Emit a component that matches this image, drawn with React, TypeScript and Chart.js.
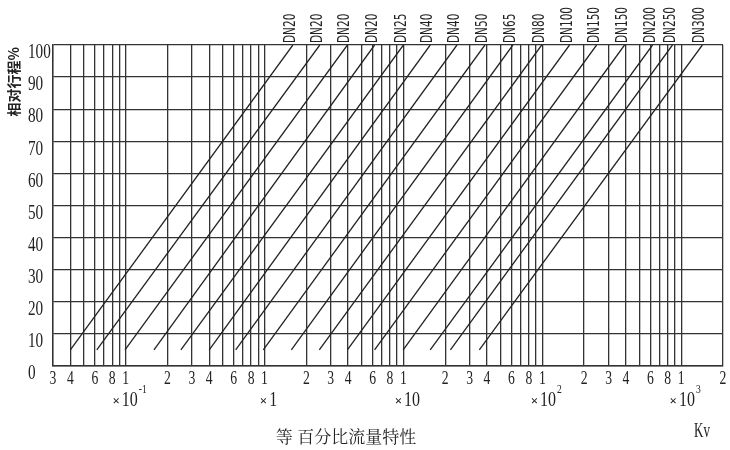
import React, { useEffect, useRef } from "react";
import { Chart, registerables } from "chart.js";

Chart.register(...registerables);

// Valve sizes, one per curve (labels along the top)
const dnLabels = [
  "DN20", "DN20", "DN20", "DN20", "DN25", "DN40", "DN40", "DN50",
  "DN65", "DN80", "DN100", "DN150", "DN150", "DN200", "DN250", "DN300",
];
// Kv at 5 % travel (start of each curve)
const kvStart = [
  0.04, 0.062, 0.099, 0.16, 0.25, 0.4, 0.62, 0.98,
  1.56, 2.48, 3.95, 6.2, 9.96, 15.6, 21.8, 35.2,
];
// Kv at 100 % travel (end of each curve)
const kvEnd = [
  1.6, 2.5, 3.95, 6.2, 10, 15.6, 24.3, 38.6,
  61.4, 99, 157, 246, 391, 622, 865, 1420,
];
const travelStart = 5;
const travelEnd = 100;

// x axis (logarithmic Kv) ticks and their labels
const xTickValues = [
  0.03, 0.04, 0.05, 0.06, 0.07, 0.08, 0.09,
  0.1, 0.2, 0.3, 0.4, 0.5, 0.6, 0.7, 0.8, 0.9,
  1, 2, 3, 4, 5, 6, 7, 8, 9,
  10, 20, 30, 40, 50, 60, 70, 80, 90,
  100, 200, 300, 400, 500, 600, 700, 800, 900,
  1000, 2000,
];
const xTickLabels = [
  "3", "4", "", "6", "", "8", "",
  "1", "2", "3", "4", "", "6", "", "8", "",
  "1", "2", "3", "4", "", "6", "", "8", "",
  "1", "2", "3", "4", "", "6", "", "8", "",
  "1", "2", "3", "4", "", "6", "", "8", "",
  "1", "2",
];
// decade multipliers under the x ticks
const multValues = [0.1, 1, 10, 100, 1000];
const multBases = ["10", "1", "10", "10", "10"];
const multExps = ["-1", "", "", "2", "3"];

// y axis (relative travel %)
const yMin = 0;
const yMax = 100;
const yStep = 10;

const yTitle = "相对行程%";
const xTitle = "等 百分比流量特性";
const xUnit = "Kv";

const INK = "#222222";
const GRID = "#333333";
const SERIF = '"Liberation Serif", "Times New Roman", serif';
const CONDENSE = 0.76;

export default function App() {
  const ref = useRef<HTMLCanvasElement>(null);

  useEffect(() => {
    const canvas = ref.current!;

    // narrow serif look for the axis tick labels drawn by the scales
    const condensedTicks = {
      id: "condensedTicks",
      beforeDraw(chart: any) {
        const ctx = chart.ctx;
        const orig = CanvasRenderingContext2D.prototype.fillText;
        ctx.fillText = function (t: string, x: number, y: number, mw?: number) {
          this.save();
          this.scale(CONDENSE, 1);
          if (mw !== undefined) orig.call(this, t, x / CONDENSE, y, mw / CONDENSE);
          else orig.call(this, t, x / CONDENSE, y);
          this.restore();
        };
      },
      beforeDatasetsDraw(chart: any) {
        delete chart.ctx.fillText;
      },
    };

    const txt = (ctx: any, s: string, x: number, y: number, sx: number, align: string) => {
      ctx.save();
      ctx.translate(x, y);
      ctx.scale(sx, 1);
      ctx.textAlign = align;
      ctx.fillText(s, 0, 0);
      ctx.restore();
    };

    const annotate = {
      id: "annotate",
      afterDraw(chart: any) {
        const { ctx, scales } = chart;
        const xs = scales.x;
        const ys = scales.y;
        delete ctx.fillText;
        ctx.save();
        ctx.fillStyle = INK;

        // DN labels at top of each curve, rotated
        ctx.font = '13px "DejaVu Sans Condensed", "DejaVu Sans", sans-serif';
        dnLabels.forEach((lab, i) => {
          const px = xs.getPixelForValue(kvEnd[i]) - 2;
          const py = ys.getPixelForValue(travelEnd) - 2;
          ctx.save();
          ctx.translate(px, py);
          ctx.rotate(-Math.PI / 2);
          ctx.scale(0.9, 1.22);
          ctx.textAlign = "left";
          ctx.textBaseline = "middle";
          ctx.fillText(lab, 0, 0);
          ctx.restore();
        });

        // y title, rotated, aligned with the top of the plot
        ctx.save();
        ctx.font = 'bold 14px "Noto Sans CJK SC", sans-serif';
        ctx.translate(14, ys.getPixelForValue(yMax) + 2);
        ctx.rotate(-Math.PI / 2);
        ctx.textAlign = "right";
        ctx.textBaseline = "middle";
        ctx.fillText(yTitle, 0, 0);
        ctx.restore();

        // decade multipliers: "× 10^n"
        const by = 401;
        ctx.textBaseline = "middle";
        multValues.forEach((v, i) => {
          ctx.font = `bold 13px ${SERIF}`;
          const wx = ctx.measureText("×").width;
          ctx.font = `20px ${SERIF}`;
          const wb = ctx.measureText(multBases[i]).width * 0.8;
          ctx.font = `12px ${SERIF}`;
          const we = multExps[i] ? ctx.measureText(multExps[i]).width * 0.8 + 1 : 0;
          const cx = xs.getPixelForValue(v) + 4;
          const x0 = cx - (wx + 2 + wb + we) / 2;
          ctx.font = `bold 13px ${SERIF}`;
          txt(ctx, "×", x0, by + 1, 1, "left");
          ctx.font = `20px ${SERIF}`;
          txt(ctx, multBases[i], x0 + wx + 2, by, 0.8, "left");
          if (multExps[i]) {
            ctx.font = `12px ${SERIF}`;
            txt(ctx, multExps[i], x0 + wx + 2 + wb + 1, by - 11, 0.8, "left");
          }
        });

        // bottom title and unit
        ctx.textBaseline = "middle";
        ctx.font = '17px "Noto Serif CJK SC", "Noto Sans CJK SC", serif';
        txt(ctx, xTitle, 346, 437, 1, "center");
        ctx.font = `20px ${SERIF}`;
        txt(ctx, xUnit, 702, 432, 0.65, "center");
        ctx.restore();
      },
    };

    const datasets = dnLabels.map((lab, i) => ({
      label: lab,
      data: [
        { x: kvStart[i], y: travelStart },
        { x: kvEnd[i], y: travelEnd },
      ],
      showLine: true,
      borderColor: INK,
      borderWidth: 1.3,
      pointRadius: 0,
      fill: false,
    }));

    const chart = new Chart(canvas, {
      type: "scatter",
      data: { datasets },
      options: {
        responsive: false,
        animation: false,
        devicePixelRatio: 1,
        layout: { padding: { left: 28, top: 45, right: 7, bottom: 0 } },
        plugins: { legend: { display: false }, tooltip: { enabled: false } },
        scales: {
          x: {
            type: "logarithmic",
            min: 0.03,
            max: 2000,
            afterBuildTicks: (s: any) => {
              s.ticks = xTickValues.map((v) => ({ value: v }));
            },
            afterFit: (s: any) => {
              s.height = 84;
            },
            ticks: {
              autoSkip: false,
              maxRotation: 0,
              minRotation: 0,
              padding: 2,
              color: INK,
              font: { family: SERIF, size: 18 },
              callback: (_v: any, idx: number) => xTickLabels[idx],
            },
            grid: { color: GRID, lineWidth: 1.3, drawTicks: false },
            border: { color: GRID, width: 1.4 },
          },
          y: {
            type: "linear",
            min: yMin,
            max: yMax,
            afterFit: (s: any) => {
              s.width = 25;
            },
            ticks: {
              stepSize: yStep,
              crossAlign: "far",
              labelOffset: 8,
              padding: 0,
              color: INK,
              font: { family: SERIF, size: 20 },
            },
            grid: { color: GRID, lineWidth: 1.3, drawTicks: false },
            border: { color: GRID, width: 1.4 },
          },
        },
      },
      plugins: [condensedTicks, annotate],
    } as any);

    return () => chart.destroy();
  }, []);

  return (
    <div style={{ position: "fixed", left: 0, top: 0, width: 730, height: 450, background: "#fff" }}>
      <canvas ref={ref} width={730} height={450} />
    </div>
  );
}
